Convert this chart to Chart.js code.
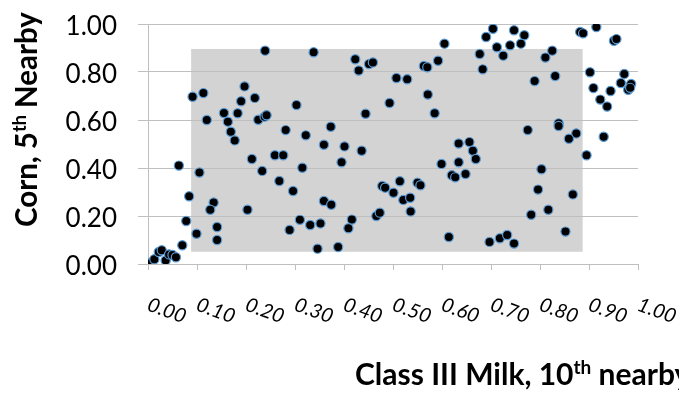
<!DOCTYPE html>
<html>
<head>
<meta charset="utf-8">
<script src="https://cdn.jsdelivr.net/npm/chart.js@4.4.0/dist/chart.umd.min.js"></script>
<style>
  html, body { margin: 0; padding: 0; background: #fff; }
  #wrap { width: 679px; height: 394px; }
</style>
</head>
<body>
<div id="wrap"><canvas id="chart" width="679" height="394"></canvas></div>
<script>
// values
const xVals = [
  0.239, 0.091, 0.113, 0.197, 0.190, 0.218, 0.303, 0.120, 0.155, 0.183,
  0.163, 0.225, 0.238, 0.242, 0.169, 0.177, 0.281, 0.322,
  0.338, 0.423, 0.430, 0.451, 0.459, 0.605, 0.592, 0.563, 0.570, 0.507,
  0.529, 0.571, 0.493, 0.444, 0.585, 0.373, 0.359, 0.401, 0.436, 0.634,
  0.704, 0.690, 0.747, 0.768, 0.712, 0.739, 0.761, 0.725, 0.677, 0.683,
  0.825, 0.811, 0.789, 0.831, 0.882, 0.888, 0.915, 0.951, 0.956, 0.902,
  0.909, 0.923, 0.937, 0.944, 0.972, 0.965, 0.986, 0.980, 0.984, 0.838,
  0.838, 0.775, 0.874, 0.859, 0.930, 0.656, 0.663, 0.669,
  0.063, 0.105, 0.212, 0.259, 0.276, 0.233, 0.315, 0.268, 0.296, 0.084,
  0.134, 0.127, 0.203, 0.078, 0.141, 0.099, 0.141, 0.070, 0.310, 0.289,
  0.0075, 0.013, 0.022, 0.028, 0.036, 0.043, 0.050, 0.057,
  0.395, 0.599, 0.634, 0.620, 0.627, 0.648, 0.478, 0.484, 0.514, 0.501,
  0.521, 0.535, 0.550, 0.556, 0.536, 0.359, 0.374, 0.331, 0.352, 0.416,
  0.409, 0.466, 0.473, 0.346, 0.388, 0.614,
  0.803, 0.796, 0.867, 0.817, 0.782, 0.852, 0.895, 0.697, 0.718, 0.733, 0.747
];
const yVals = [
  0.889, 0.697, 0.712, 0.740, 0.678, 0.692, 0.662, 0.600, 0.629, 0.628,
  0.593, 0.601, 0.614, 0.620, 0.551, 0.515, 0.558, 0.536,
  0.882, 0.853, 0.806, 0.833, 0.840, 0.918, 0.847, 0.825, 0.820, 0.775,
  0.770, 0.706, 0.671, 0.626, 0.628, 0.572, 0.497, 0.490, 0.472, 0.502,
  0.980, 0.946, 0.974, 0.953, 0.903, 0.911, 0.918, 0.868, 0.875, 0.811,
  0.889, 0.860, 0.762, 0.783, 0.967, 0.961, 0.987, 0.930, 0.937, 0.799,
  0.733, 0.685, 0.656, 0.721, 0.792, 0.754, 0.750, 0.726, 0.734, 0.586,
  0.575, 0.558, 0.544, 0.522, 0.530, 0.508, 0.472, 0.4375,
  0.410, 0.381, 0.4375, 0.453, 0.453, 0.388, 0.401, 0.346, 0.304, 0.282,
  0.256, 0.226, 0.226, 0.179, 0.154, 0.126, 0.100, 0.078, 0.184, 0.142,
  0.007, 0.020, 0.050, 0.057, 0.015, 0.040, 0.038, 0.028,
  0.424, 0.417, 0.424, 0.370, 0.361, 0.375, 0.325, 0.318, 0.345, 0.297,
  0.267, 0.276, 0.339, 0.328, 0.219, 0.2625, 0.247, 0.1625, 0.169, 0.185,
  0.149, 0.200, 0.214, 0.064, 0.071, 0.1125,
  0.395, 0.310, 0.290, 0.226, 0.205, 0.135, 0.453, 0.092, 0.107, 0.121, 0.085
];

const xTickValues = [0, 0.1, 0.2, 0.3, 0.4, 0.5, 0.6, 0.7, 0.8, 0.9, 1.0];
const xTickLabels = ['0.00', '0.10', '0.20', '0.30', '0.40', '0.50', '0.60', '0.70', '0.80', '0.90', '1.00'];
const yTickValues = [0, 0.2, 0.4, 0.6, 0.8, 1.0];
const yTickLabels = ['0.00', '0.20', '0.40', '0.60', '0.80', '1.00'];

// shaded band, in data units
const bandX = [0.088, 0.887];
const bandY = [0.051, 0.896];

const xTitle = [{ t: 'Class III Milk, 10' }, { t: 'th', sup: true }, { t: ' nearby' }];
const yTitle = [{ t: 'Corn, 5' }, { t: 'th', sup: true }, { t: ' Nearby' }];

const points = xVals.map((x, i) => ({ x: x, y: yVals[i] }));
const gridColor = '#bfbfbf';

// draws text with superscript parts, starting at (x, y) on the baseline
function drawRich(ctx, parts, x, y, size) {
  let cx = x;
  parts.forEach(p => {
    const s = p.sup ? Math.round(size * 0.62) : size;
    ctx.font = 'bold ' + s + 'px Lato';
    ctx.fillText(p.t, cx, p.sup ? y - size * 0.38 : y);
    cx += ctx.measureText(p.t).width;
  });
}

const bandPlugin = {
  id: 'band',
  beforeDraw(chart) {
    const { ctx, scales } = chart;
    const x0 = scales.x.getPixelForValue(bandX[0]);
    const x1 = scales.x.getPixelForValue(bandX[1]);
    const y0 = scales.y.getPixelForValue(bandY[1]);
    const y1 = scales.y.getPixelForValue(bandY[0]);
    ctx.save();
    ctx.fillStyle = '#d3d3d3';
    ctx.fillRect(x0, y0, x1 - x0, y1 - y0);
    ctx.restore();
  }
};

const textPlugin = {
  id: 'texts',
  afterDraw(chart) {
    const { ctx, scales } = chart;
    ctx.save();
    ctx.fillStyle = '#000';
    // slanted x labels
    ctx.font = 'italic 20px Lato';
    ctx.textAlign = 'left';
    ctx.textBaseline = 'alphabetic';
    xTickValues.forEach((v, i) => {
      const px = scales.x.getPixelForValue(v) - 2;
      ctx.save();
      ctx.translate(px, 310);
      ctx.rotate(20 * Math.PI / 180);
      ctx.fillText(xTickLabels[i], 0, 0);
      ctx.restore();
    });
    // axis titles
    drawRich(ctx, xTitle, 355, 385, 30);
    ctx.save();
    ctx.translate(37, 227);
    ctx.rotate(-Math.PI / 2);
    drawRich(ctx, yTitle, 0, 0, 29.5);
    ctx.restore();
    ctx.restore();
  }
};

new Chart(document.getElementById('chart'), {
  type: 'scatter',
  data: {
    datasets: [{
      data: points,
      backgroundColor: '#000',
      borderColor: '#5b9bd5',
      borderWidth: 1.2,
      pointRadius: 4.6,
      pointHoverRadius: 4.6
    }]
  },
  options: {
    responsive: false,
    animation: false,
    events: [],
    layout: { padding: { left: 0, top: 24, right: 41, bottom: 0 } },
    plugins: { legend: { display: false }, tooltip: { enabled: false } },
    scales: {
      x: {
        type: 'linear',
        min: 0,
        max: 1,
        afterBuildTicks: s => { s.ticks = xTickValues.map(v => ({ value: v })); },
        afterFit: s => { s.height = 130; },
        ticks: { display: false },
        grid: { drawOnChartArea: false, drawTicks: true, tickLength: 6, color: gridColor },
        border: { color: gridColor }
      },
      y: {
        type: 'linear',
        min: 0,
        max: 1,
        afterBuildTicks: s => { s.ticks = yTickValues.map(v => ({ value: v })); },
        afterFit: s => { s.width = 148; s.paddingTop = 0; s.paddingBottom = 0; },
        ticks: {
          callback: (v, i) => yTickLabels[i],
          font: { family: 'Lato', size: 26 },
          color: '#000',
          padding: 21,
          labelOffset: 3
        },
        grid: { color: gridColor, tickLength: 10 },
        border: { color: gridColor }
      }
    }
  },
  plugins: [bandPlugin, textPlugin]
});
</script>
</body>
</html>
